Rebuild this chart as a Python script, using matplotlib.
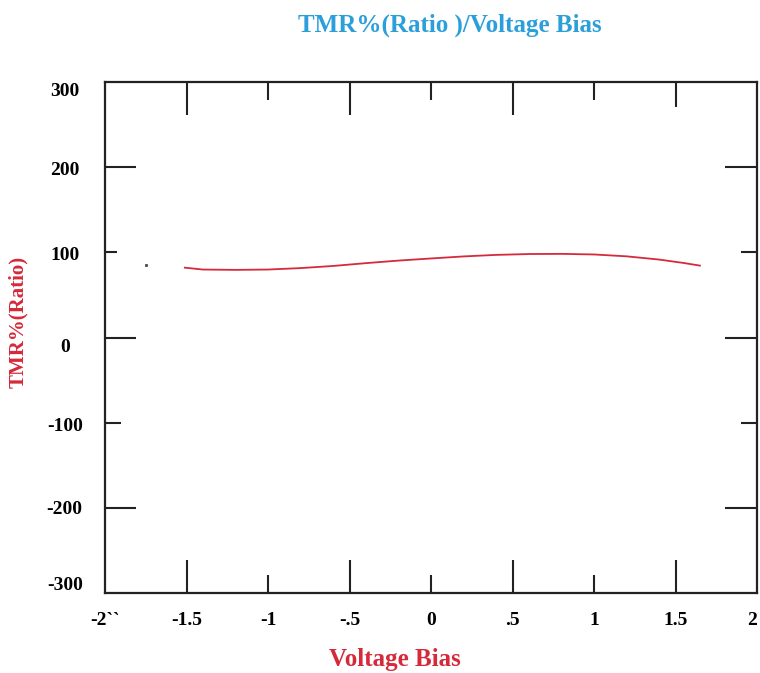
import numpy as np
import matplotlib.pyplot as plt
from matplotlib.transforms import ScaledTranslation

# TMR% gegen Bias-Spannung
bias = np.array([-1.51, -1.40, -1.20, -1.00, -0.80, -0.60, -0.40, -0.20,
                 0.00, 0.20, 0.40, 0.60, 0.80, 1.00, 1.20, 1.40, 1.55, 1.65])
tmr = np.array([82.0, 79.8, 79.4, 79.8, 81.5, 84.0, 87.3, 90.3,
                92.8, 95.2, 97.0, 98.0, 98.2, 97.5, 95.3, 91.5, 87.5, 84.4])

# einzelner Punkt links
stray_x = [-1.75]
stray_y = [85.6]

x_ticks = [-2, -1.5, -1, -0.5, 0, 0.5, 1, 1.5, 2]
x_labels = ['-2``', '-1.5', '-1', '-.5', '0', '.5', '1', '1.5', '2']
y_ticks = [-300, -200, -100, 0, 100, 200, 300]
y_labels = ['-300', '-200', '-100', '0', '100', '200', '300']

# Ticklängen in Pixel (unten, oben / links, rechts)
x_len_bottom = [0, 33, 18, 33, 18, 33, 18, 33, 0]
x_len_top = [0, 33, 18, 33, 18, 33, 18, 25, 0]
y_len_left = [0, 31, 16, 31, 12, 31, 0]
y_len_right = [0, 32, 16, 32, 16, 32, 0]
# vertikaler Versatz der y-Beschriftung in Pixel (positiv = nach unten)
y_label_shift = [-10, 0, 2, 8, 1, 1, 7]

red = '#d42a3a'
blue = '#2b9fd9'
font = ['Liberation Serif', 'DejaVu Serif']

fig = plt.figure(figsize=(7.6, 6.73), dpi=100)
ax = fig.add_axes([105 / 760, 80 / 673, 652 / 760, 511 / 673])

ax.plot(bias, tmr, color=red, linewidth=1.3)
ax.plot(stray_x, stray_y, 's', color='#555555', markersize=1.2)

ax.set_xlim(-2, 2)
ax.set_ylim(-300, 300)

ax.set_xticks(x_ticks)
ax.set_xticklabels(x_labels, fontfamily=font, fontweight='bold', fontsize=14)
ax.set_yticks(y_ticks)
ax.set_yticklabels(y_labels, fontfamily=font, fontweight='bold', fontsize=14,
                   ha='center')

ax.tick_params(axis='both', direction='in', top=True, right=True,
               width=1.5, color='#222222')
ax.tick_params(axis='x', pad=14)
ax.tick_params(axis='y', pad=29)

px = 0.72  # Pixel -> Punkt bei dpi 100
for t, lb, lt in zip(ax.xaxis.get_major_ticks(), x_len_bottom, x_len_top):
    t.tick1line.set_markersize(lb * px)
    t.tick2line.set_markersize(lt * px)
for t, ll, lr, dy in zip(ax.yaxis.get_major_ticks(), y_len_left, y_len_right,
                         y_label_shift):
    t.tick1line.set_markersize(ll * px)
    t.tick2line.set_markersize(lr * px)
    t.label1.set_transform(t.label1.get_transform()
                           + ScaledTranslation(0, -dy / 100, fig.dpi_scale_trans))

# "2" am rechten Rand nicht abschneiden
ax.get_xticklabels()[-1].set_horizontalalignment('right')

for s in ax.spines.values():
    s.set_linewidth(1.6)
    s.set_color('#222222')

fig.text(0.592, 0.962, 'TMR%(Ratio )/Voltage Bias', color=blue,
         fontfamily=font, fontweight='bold', fontsize=18, ha='center', va='center')
fig.text(0.52, 0.02, 'Voltage Bias', color=red, fontfamily=font,
         fontweight='bold', fontsize=18, ha='center', va='center')
fig.text(0.024, 0.522, 'TMR%(Ratio)', color=red, fontfamily=font,
         fontweight='bold', fontsize=15, rotation=90, ha='center', va='center')

fig.savefig('out.png', dpi=100)
